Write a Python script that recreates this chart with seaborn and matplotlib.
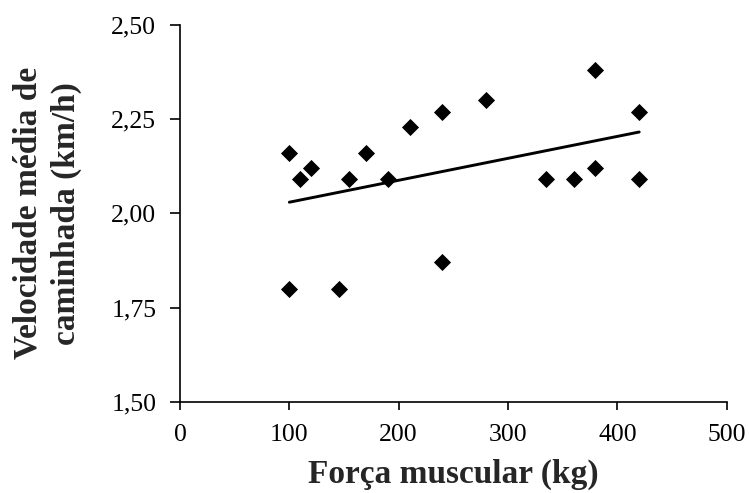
import numpy as np
import matplotlib
matplotlib.use("Agg")
import matplotlib.pyplot as plt
from matplotlib.ticker import FuncFormatter
import seaborn as sns

# values
forca = [100, 100, 110, 120, 145, 155, 170, 190, 210, 240, 240, 280, 335, 360, 380, 380, 420, 420]
velocidade = [2.16, 1.80, 2.09, 2.12, 1.80, 2.09, 2.16, 2.09, 2.23, 2.27, 1.87, 2.30, 2.09, 2.09, 2.38, 2.12, 2.27, 2.09]

x_ticks = [0, 100, 200, 300, 400, 500]
y_ticks = [1.50, 1.75, 2.00, 2.25, 2.50]

sns.set_style("ticks")
plt.rcParams['font.family'] = ['Liberation Serif', 'DejaVu Serif']

fig = plt.figure(figsize=(7.49, 4.93), dpi=100)
ax = fig.add_axes([0.2403, 0.1852, 0.7299, 0.7641])

sns.scatterplot(x=forca, y=velocidade, marker='D', s=76, color='black', linewidth=0, ax=ax)
# linear trend line (least squares fit, like the Excel trendline)
sns.regplot(x=np.array(forca), y=np.array(velocidade), scatter=False, ci=None, color='black',
            line_kws={'linewidth': 2.1}, ax=ax)

ax.set_xlim(0, 500)
ax.set_ylim(1.5, 2.5)
ax.set_xticks(x_ticks)
ax.set_yticks(y_ticks)
ax.yaxis.set_major_formatter(FuncFormatter(lambda v, p: f"{v:.2f}".replace('.', ',')))

ax.tick_params(axis='x', direction='out', length=6, width=1.2, pad=10, labelsize=18.5, colors='black')
ax.tick_params(axis='y', direction='out', length=7, width=1.2, pad=10, labelsize=18.5, colors='black')
for side in ['left', 'bottom']:
    ax.spines[side].set_linewidth(1.2)
    ax.spines[side].set_color('black')
sns.despine(ax=ax)

ax.set_xlabel('Força muscular (kg)', fontsize=24, fontweight='bold')
ax.set_ylabel('Velocidade média de\ncaminhada (km/h)', fontsize=24, fontweight='bold', linespacing=1.3)
ax.xaxis.set_label_coords(0.5, -0.152)
ax.yaxis.set_label_coords(-0.18, 0.5)

fig.savefig('out.png', dpi=100)
